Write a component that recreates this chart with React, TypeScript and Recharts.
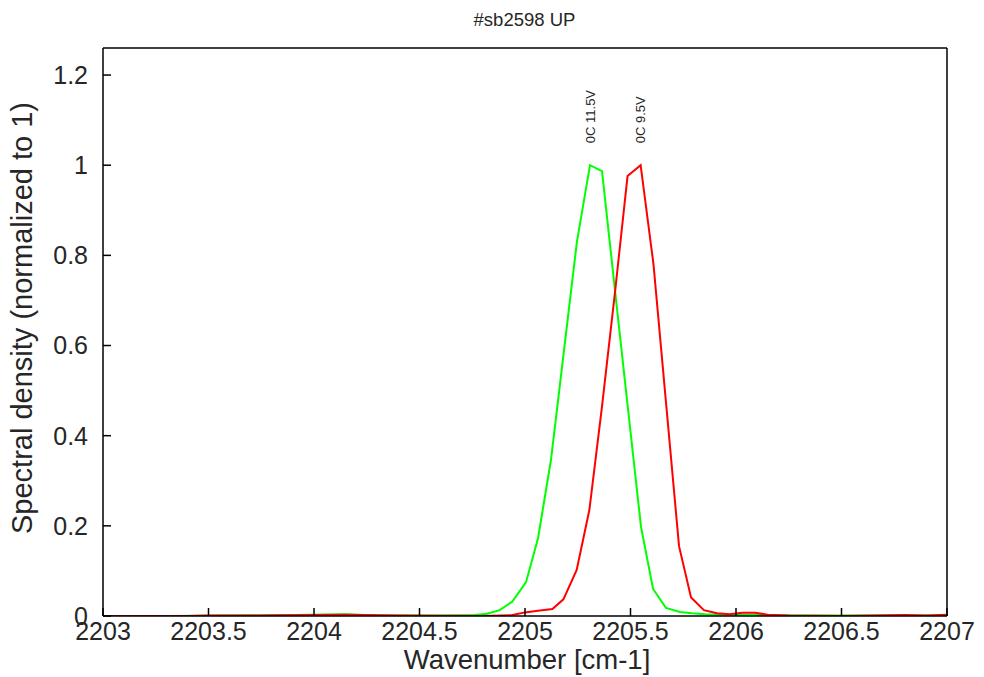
import React from 'react';
import { LineChart, Line, XAxis, YAxis, ReferenceDot, Label } from 'recharts';

const title = '#sb2598 UP';
const xLabel = 'Wavenumber [cm-1]';
const yLabel = 'Spectral density (normalized to 1)';
const seriesNames = ['0C 11.5V', '0C 9.5V'];
const seriesColors = ['#00ff00', '#ff0000'];

const xTicks = [2203, 2203.5, 2204, 2204.5, 2205, 2205.5, 2206, 2206.5, 2207];
const yTicks = [0, 0.2, 0.4, 0.6, 0.8, 1, 1.2];

const greenX = [2203.0, 2203.3, 2203.6, 2203.9, 2204.15, 2204.3, 2204.6, 2204.76, 2204.82, 2204.88, 2204.94, 2205.005, 2205.062, 2205.123, 2205.185, 2205.246, 2205.308, 2205.365, 2205.427, 2205.488, 2205.55, 2205.607, 2205.668, 2205.735, 2205.791, 2205.853, 2205.95, 2206.1, 2206.4, 2206.7, 2207.0];
const greenY = [0.0, 0.0, 0.001, 0.002, 0.004, 0.001, 0.001, 0.002, 0.005, 0.013, 0.032, 0.075, 0.173, 0.346, 0.59, 0.83, 1.0, 0.987, 0.72, 0.46, 0.197, 0.06, 0.018, 0.009, 0.006, 0.004, 0.003, 0.002, 0.001, 0.001, 0.001];

const redX = [2203.0, 2203.4, 2203.5, 2203.7, 2204.15, 2204.4, 2204.8, 2204.94, 2205.0, 2205.07, 2205.13, 2205.182, 2205.245, 2205.305, 2205.365, 2205.427, 2205.486, 2205.548, 2205.609, 2205.668, 2205.73, 2205.787, 2205.848, 2205.91, 2205.97, 2206.03, 2206.09, 2206.15, 2206.25, 2206.5, 2206.8, 2206.9, 2207.0];
const redY = [0.0, 0.0, 0.001, 0.001, 0.003, 0.001, 0.0, 0.002, 0.008, 0.012, 0.0155, 0.037, 0.102, 0.235, 0.465, 0.72, 0.976, 1.0, 0.78, 0.475, 0.155, 0.041, 0.013, 0.006, 0.004, 0.007, 0.007, 0.003, 0.001, 0.0, 0.002, 0.001, 0.003];

const greenData = greenX.map((x, i) => ({ x, y: greenY[i] }));
const redData = redX.map((x, i) => ({ x, y: redY[i] }));

const peakOf = (d: { x: number; y: number }[]) => d.reduce((a, b) => (b.y > a.y ? b : a));
const greenPeak = peakOf(greenData);
const redPeak = peakOf(redData);

const FONT = '"Liberation Sans", Arial, Helvetica, sans-serif';
const TEXT = '#262626';

const peakLabel = (text: string) => (props: any) => {
  const vb = props.viewBox || {};
  const cx = vb.x + (vb.width || 0) / 2;
  const cy = vb.y + (vb.height || 0) / 2;
  const ty = cy - 22;
  return (
    <text x={cx} y={ty} dy="0.35em" transform={`rotate(-90 ${cx} ${ty})`} textAnchor="start" fontSize={13} fill={TEXT} fontFamily={FONT}>
      {text}
    </text>
  );
};

const titleContent = (props: any) => {
  const vb = props.viewBox || {};
  return (
    <text x={vb.x + vb.width / 2 - 0.5} y={vb.y - 21} textAnchor="middle" fontSize={18.5} fill={TEXT} fontFamily={FONT}>
      {title}
    </text>
  );
};

const xLabelContent = (props: any) => {
  const vb = props.viewBox || {};
  return (
    <text x={vb.x + vb.width / 2 + 2} y={vb.y + 53} textAnchor="middle" fontSize={27.5} fill={TEXT} fontFamily={FONT}>
      {xLabel}
    </text>
  );
};

const yLabelContent = (props: any) => {
  const vb = props.viewBox || {};
  const cx = vb.x - 80;
  const cy = vb.y + vb.height / 2 - 14;
  return (
    <text x={cx} y={cy} dy="0.35em" transform={`rotate(-90 ${cx} ${cy})`} textAnchor="middle" fontSize={29} fill={TEXT} fontFamily={FONT}>
      {yLabel}
    </text>
  );
};

const axisStroke = { stroke: '#000', strokeWidth: 1.5 };
const tickStyle = { fill: TEXT, fontSize: 25, fontFamily: FONT };

export default function App() {
  return (
    <div style={{ position: 'absolute', left: 0, top: 0, width: 984, height: 677, background: '#fff' }}>
      <LineChart width={984} height={677} margin={{ top: 47, right: 36, bottom: 60, left: 102 }}>
        <XAxis
          dataKey="x"
          type="number"
          domain={[2203, 2207]}
          ticks={xTicks}
          interval={0}
          allowDataOverflow
          height={1}
          tickSize={-8}
          tickMargin={14}
          axisLine={axisStroke}
          tickLine={axisStroke}
          tick={tickStyle}
        >
          <Label content={xLabelContent} />
        </XAxis>
        <XAxis
          xAxisId="top"
          orientation="top"
          type="number"
          domain={[2203, 2207]}
          ticks={xTicks}
          allowDataOverflow
          height={1}
          tick={false}
          tickLine={false}
          axisLine={axisStroke}
        >
          <Label content={titleContent} />
        </XAxis>
        <YAxis
          type="number"
          domain={[0, 1.26]}
          ticks={yTicks}
          interval={0}
          allowDataOverflow
          width={1}
          tickSize={-8}
          tickMargin={23}
          axisLine={axisStroke}
          tickLine={axisStroke}
          tick={tickStyle}
        >
          <Label content={yLabelContent} />
        </YAxis>
        <YAxis
          yAxisId="right"
          orientation="right"
          type="number"
          domain={[0, 1.26]}
          ticks={yTicks}
          interval={0}
          allowDataOverflow
          width={1}
          tickSize={-8}
          tick={false}
          axisLine={axisStroke}
          tickLine={axisStroke}
        />
        <Line data={greenData} dataKey="y" name={seriesNames[0]} stroke={seriesColors[0]} strokeWidth={2} dot={false} isAnimationActive={false} />
        <Line data={redData} dataKey="y" name={seriesNames[1]} stroke={seriesColors[1]} strokeWidth={2} dot={false} isAnimationActive={false} />
        <ReferenceDot x={greenPeak.x} y={greenPeak.y} r={0} fill="none" stroke="none" label={<Label content={peakLabel(seriesNames[0])} />} />
        <ReferenceDot x={redPeak.x} y={redPeak.y} r={0} fill="none" stroke="none" label={<Label content={peakLabel(seriesNames[1])} />} />
      </LineChart>
    </div>
  );
}
